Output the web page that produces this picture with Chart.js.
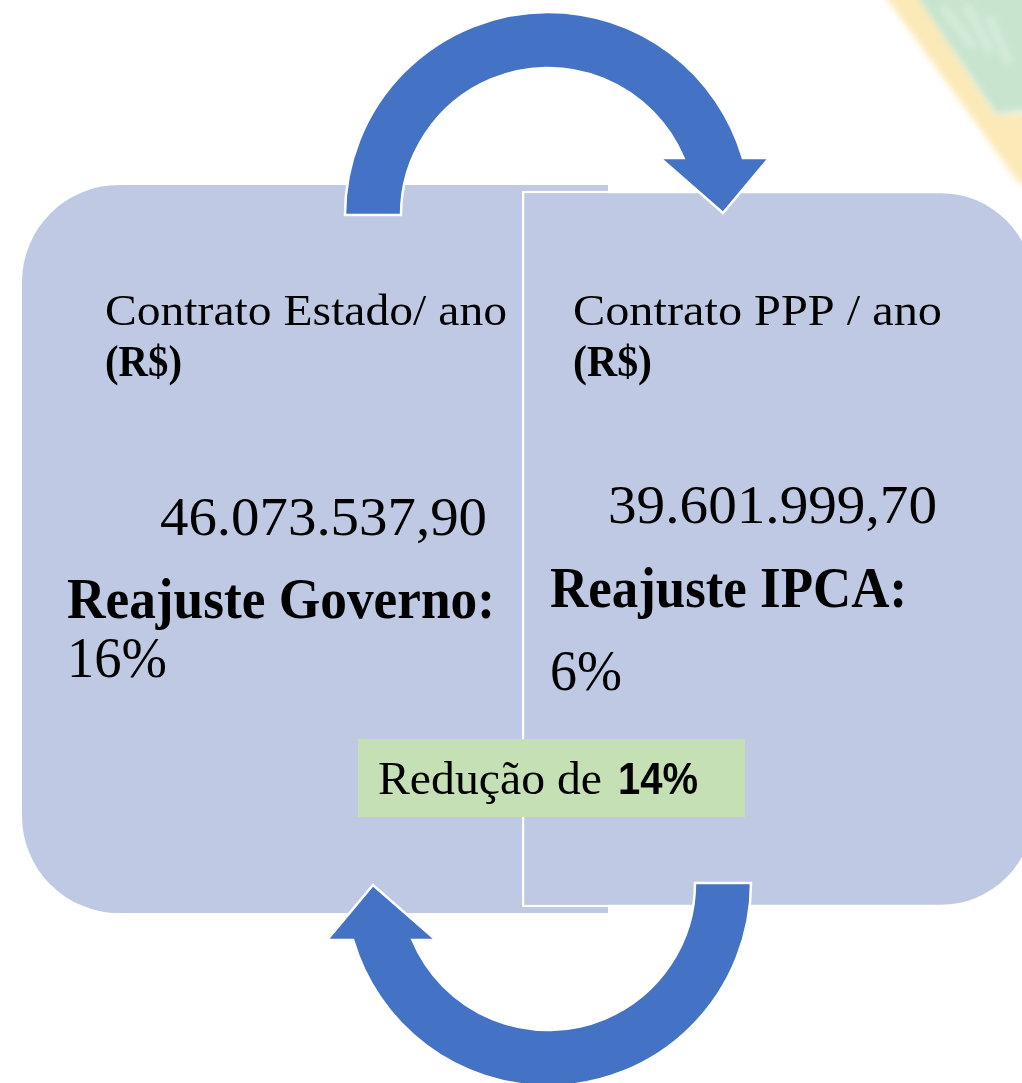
<!DOCTYPE html>
<html>
<head>
<meta charset="utf-8">
<script src="https://cdn.jsdelivr.net/npm/chart.js@4/dist/chart.umd.min.js"></script>
<style>
  html, body { margin: 0; padding: 0; background: #ffffff; overflow: hidden; }
  #c { display: block; }
</style>
</head>
<body>
<canvas id="c" width="1022" height="1083"></canvas>
<script>
// ---------- DATA ----------
const categories = ['Contrato Estado/ ano', 'Contrato PPP / ano'];
const unitLabel = '(R$)';
const contractValues = [46073537.90, 39601999.70];
const adjustLabels = ['Reajuste Governo:', 'Reajuste IPCA:'];
const adjustPercents = [16, 6];
const reductionLabel = 'Redução de ';
const reductionPercent = 14;

// ---------- helpers ----------
function fmtBR(v) {
  const parts = v.toFixed(2).split('.');
  const intPart = parts[0].replace(/\B(?=(\d{3})+(?!\d))/g, '.');
  return intPart + ',' + parts[1];
}

// Layout (positions / sizes / styles) kept separate from data
const BOX_FILL = '#BFC9E4';
const ARROW_FILL = '#4472C4';
const SERIF = '"Liberation Serif", "DejaVu Serif", serif';
const SANS = '"Liberation Sans", "Open Sans", sans-serif';
const BOX_INSET = 0.008;

function fitText(ctx, str, x, baseline, width, font) {
  ctx.font = font;
  const w = ctx.measureText(str).width;
  ctx.save();
  ctx.translate(x, baseline);
  ctx.scale(width / w, 1);
  ctx.fillText(str, 0, 0);
  ctx.restore();
}

const decoPlugin = {
  id: 'deco',
  beforeDatasetsDraw(chart) {
    const ctx = chart.ctx;
    ctx.save();
    ctx.filter = 'blur(3px)';
    // faint yellow band
    ctx.fillStyle = 'rgba(251,226,160,0.75)';
    ctx.beginPath();
    ctx.moveTo(882, -8); ctx.lineTo(916, -8); ctx.lineTo(996, 114);
    ctx.lineTo(1030, 112); ctx.lineTo(1030, 185); ctx.lineTo(1018, 182);
    ctx.closePath(); ctx.fill();
    // faint green shape
    ctx.fillStyle = 'rgba(176,216,186,0.7)';
    ctx.beginPath();
    ctx.moveTo(914, -8); ctx.lineTo(1030, -8); ctx.lineTo(1030, 110);
    ctx.lineTo(996, 114); ctx.closePath(); ctx.fill();
    // light texture strokes
    ctx.strokeStyle = 'rgba(220,242,226,0.6)';
    ctx.lineWidth = 8;
    ctx.lineCap = 'round';
    [[945, 10, 972, 45], [968, 8, 990, 50], [990, 20, 1008, 60]].forEach(s => {
      ctx.beginPath(); ctx.moveTo(s[0], s[1]); ctx.lineTo(s[2], s[3]); ctx.stroke();
    });
    ctx.restore();
  },
  afterDatasetsDraw(chart) {
    const ctx = chart.ctx;
    // ---- curved arrows ----
    function arrowPath() {
      const cx = 548, cy = 215, R = 203, r = 147, cut = 57;
      const tO = -Math.asin(cut / R);
      const tI = -Math.asin(cut / r);
      const yCut = cy - cut;
      ctx.beginPath();
      ctx.moveTo(cx - R, cy);
      ctx.arc(cx, cy, R, Math.PI, 2 * Math.PI + tO, false);
      ctx.lineTo(769, yCut);
      ctx.lineTo(723, 213);
      ctx.lineTo(660, yCut);
      ctx.lineTo(cx + r * Math.cos(tI), yCut);
      ctx.arc(cx, cy, r, 2 * Math.PI + tI, Math.PI, true);
      ctx.closePath();
    }
    ctx.save();
    ctx.fillStyle = ARROW_FILL;
    ctx.strokeStyle = '#ffffff';
    ctx.lineWidth = 2.5;
    ctx.lineJoin = 'miter';
    arrowPath(); ctx.fill(); ctx.stroke();
    ctx.translate(548, 549); ctx.rotate(Math.PI); ctx.translate(-548, -549);
    arrowPath(); ctx.fill(); ctx.stroke();
    ctx.restore();

    // ---- green reduction label ----
    ctx.save();
    ctx.fillStyle = '#C5E0B4';
    ctx.fillRect(358, 739, 387, 78);
    ctx.fillStyle = '#000000';
    ctx.textBaseline = 'alphabetic';
    fitText(ctx, reductionLabel.trim(), 378, 794, 224, '47px ' + SERIF);
    fitText(ctx, reductionPercent + '%', 618, 794, 80, 'bold 44px ' + SANS);
    ctx.restore();

    // ---- box texts ----
    const L = [
      { hx: 105, hy: 325, hw: 402, ux: 105, uy: 376, uw: 77,
        vx: 160, vy: 535, vw: 327, ax: 67, ay: 618, aw: 428, px: 67, py: 677, pw: 100 },
      { hx: 573, hy: 325, hw: 369, ux: 573, uy: 376, uw: 79,
        vx: 608, vy: 523, vw: 329, ax: 550, ay: 607, aw: 357, px: 550, py: 690, pw: 72 }
    ];
    ctx.save();
    ctx.fillStyle = '#000000';
    categories.forEach((cat, i) => {
      const p = L[i];
      fitText(ctx, cat, p.hx, p.hy, p.hw, '45px ' + SERIF);
      fitText(ctx, unitLabel, p.ux, p.uy, p.uw, 'bold 45px ' + SERIF);
      fitText(ctx, fmtBR(contractValues[i]), p.vx, p.vy, p.vw, '55px ' + SERIF);
      fitText(ctx, adjustLabels[i], p.ax, p.ay, p.aw, 'bold 57px ' + SERIF);
      fitText(ctx, adjustPercents[i] + '%', p.px, p.py, p.pw, '57px ' + SERIF);
    });
    ctx.restore();
  }
};

new Chart(document.getElementById('c'), {
  type: 'bar',
  data: {
    labels: categories,
    datasets: [
      {
        label: categories[1],
        data: [null, [BOX_INSET, 1 - BOX_INSET]],
        order: 0,
        grouped: false,
        clip: false,
        barThickness: 514,
        backgroundColor: BOX_FILL,
        borderColor: '#ffffff',
        borderWidth: 2.5,
        borderSkipped: false,
        inflateAmount: 0,
        borderRadius: { topLeft: 0, bottomLeft: 0, topRight: 95, bottomRight: 95 }
      },
      {
        label: categories[0],
        data: [[0, 1], null],
        order: 1,
        grouped: false,
        clip: false,
        barThickness: 586,
        backgroundColor: BOX_FILL,
        borderWidth: 0,
        borderSkipped: false,
        inflateAmount: 0,
        borderRadius: { topLeft: 97, bottomLeft: 97, topRight: 0, bottomRight: 0 }
      }
    ]
  },
  options: {
    responsive: false,
    animation: false,
    layout: { padding: { left: 83, right: 11, top: 185, bottom: 170 } },
    scales: {
      x: { display: false, offset: true },
      y: { display: false, min: 0, max: 1 }
    },
    plugins: { legend: { display: false }, tooltip: { enabled: false } }
  },
  plugins: [decoPlugin]
});
</script>
</body>
</html>
